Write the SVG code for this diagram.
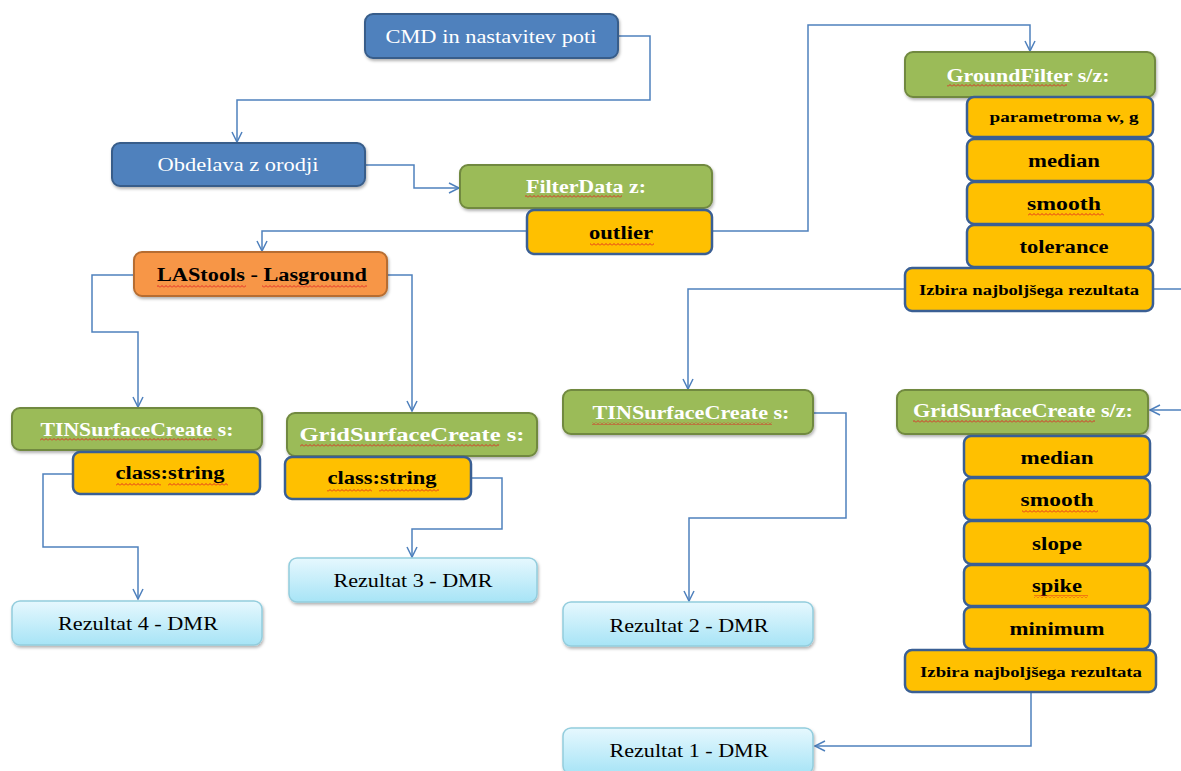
<svg xmlns="http://www.w3.org/2000/svg" width="1181" height="771" viewBox="0 0 1181 771">
<defs>
  <marker id="arr" markerUnits="userSpaceOnUse" markerWidth="14" markerHeight="14" refX="11" refY="6" orient="auto">
    <path d="M1,1 L11,6 L1,11" fill="none" stroke="#4F81BD" stroke-width="1.5"/>
  </marker>
  <filter id="sh" x="-10%" y="-20%" width="120%" height="150%">
    <feDropShadow dx="1" dy="2" stdDeviation="1.5" flood-color="#000" flood-opacity="0.3"/>
  </filter>
  <linearGradient id="lb" x1="0" y1="0" x2="0" y2="1">
    <stop offset="0" stop-color="#E6F8FE"/>
    <stop offset="1" stop-color="#A7E4F6"/>
  </linearGradient>
  <pattern id="wavy" patternUnits="userSpaceOnUse" width="4" height="3">
    <path d="M0,2.5 L2,0.5 L4,2.5" fill="none" stroke="#E02020" stroke-width="0.9"/>
  </pattern>
  <style>
    .blue{fill:#4F81BD;stroke:#385D8A;stroke-width:2}
    .green{fill:#9BBB59;stroke:#71893F;stroke-width:2}
    .orn{fill:#FFC000;stroke:#3A5F94;stroke-width:2.5}
    .las{fill:#F79646;stroke:#B66D31;stroke-width:2}
    .res{fill:url(#lb);stroke:#93CDDD;stroke-width:1.5}
    .t{font-family:"Liberation Serif","Times New Roman",serif;text-anchor:middle}
    .tw{fill:#FFFFFF;font-size:19px}
    .tg{fill:#FFFFFF;font-size:19px;font-weight:bold}
    .tb{fill:#000;font-size:18px;font-weight:bold}
    .ts{fill:#000;font-size:15px;font-weight:bold}
    .tr{fill:#000;font-size:19px}
    .c{fill:none;stroke:#4F81BD;stroke-width:1.5}
    .w{fill:url(#wavy)}
  </style>
</defs>
<rect width="1181" height="771" fill="#FFFFFF"/>

<g id="connectors">
  <path class="c" d="M618,36 H650 V100 H237 V142" marker-end="url(#arr)"/>
  <path class="c" d="M365,165 H414 V188 H459" marker-end="url(#arr)"/>
  <path class="c" d="M527,231 H262 V251" marker-end="url(#arr)"/>
  <path class="c" d="M712,231 H808 V25 H1030 V51" marker-end="url(#arr)"/>
  <path class="c" d="M134,275 H92 V332 H138 V407" marker-end="url(#arr)"/>
  <path class="c" d="M387,275 H412 V411" marker-end="url(#arr)"/>
  <path class="c" d="M905,289 H688 V389" marker-end="url(#arr)"/>
  <path class="c" d="M1153,289 H1195 V410 H1150" marker-end="url(#arr)"/>
  <path class="c" d="M73,474 H43 V547 H138 V599" marker-end="url(#arr)"/>
  <path class="c" d="M471,478 H502 V529 H412 V557" marker-end="url(#arr)"/>
  <path class="c" d="M813,413 H846 V518 H689 V601" marker-end="url(#arr)"/>
  <path class="c" d="M1031,692 V746 H815" marker-end="url(#arr)"/>
</g>

<g id="cmd">
  <rect class="blue" x="365" y="14" width="253" height="44" rx="8" filter="url(#sh)"/>
  <text class="t tw" x="491" y="43" textLength="211" lengthAdjust="spacingAndGlyphs">CMD in nastavitev poti</text>
</g>
<g id="obdelava">
  <rect class="blue" x="112" y="143" width="253" height="43" rx="8" filter="url(#sh)"/>
  <text class="t tw" x="238" y="171" textLength="161" lengthAdjust="spacingAndGlyphs">Obdelava z orodji</text>
</g>
<g id="filterdata">
  <rect class="green" x="460" y="165" width="252" height="43" rx="8" filter="url(#sh)"/>
  <text class="t tg" x="586" y="193" textLength="120" lengthAdjust="spacingAndGlyphs">FilterData z:</text>
  <rect class="w" x="525" y="195" width="97" height="3"/>
</g>
<g id="outlier">
  <rect class="orn" x="527" y="210" width="185" height="44" rx="7"/>
  <text class="t tb" x="621" y="239" textLength="64" lengthAdjust="spacingAndGlyphs">outlier</text>
  <rect class="w" x="590" y="243" width="64" height="3"/>
</g>
<g id="lastools">
  <rect class="las" x="134" y="252" width="253" height="44" rx="8" filter="url(#sh)"/>
  <text class="t tb" x="262" y="281" textLength="210" lengthAdjust="spacingAndGlyphs">LAStools - Lasground</text>
  <rect class="w" x="157" y="285" width="89" height="3"/>
  <rect class="w" x="262" y="285" width="105" height="3"/>
</g>

<g id="groundfilter">
  <rect class="green" x="905" y="52" width="250" height="45" rx="8" filter="url(#sh)"/>
  <text class="t tg" x="1028" y="82" textLength="163" lengthAdjust="spacingAndGlyphs">GroundFilter s/z:</text>
  <rect class="w" x="947" y="84" width="120" height="3"/>
</g>
<g id="gf-parametroma">
  <rect class="orn" x="967" y="97" width="186" height="40" rx="7"/>
  <text class="t ts" x="1064" y="122" textLength="149" lengthAdjust="spacingAndGlyphs">parametroma w, g</text>
</g>
<g id="gf-median">
  <rect class="orn" x="967" y="139" width="186" height="42" rx="7"/>
  <text class="t tb" x="1064" y="167" textLength="72" lengthAdjust="spacingAndGlyphs">median</text>
</g>
<g id="gf-smooth">
  <rect class="orn" x="967" y="182" width="186" height="42" rx="7"/>
  <text class="t tb" x="1064" y="210" textLength="74" lengthAdjust="spacingAndGlyphs">smooth</text>
  <rect class="w" x="1028" y="213" width="76" height="3"/>
</g>
<g id="gf-tolerance">
  <rect class="orn" x="967" y="225" width="186" height="42" rx="7"/>
  <text class="t tb" x="1064" y="253" textLength="89" lengthAdjust="spacingAndGlyphs">tolerance</text>
</g>
<g id="gf-izbira">
  <rect class="orn" x="905" y="268" width="248" height="43" rx="7"/>
  <text class="t ts" x="1029" y="295" textLength="220" lengthAdjust="spacingAndGlyphs">Izbira najboljšega rezultata</text>
</g>

<g id="tin1">
  <rect class="green" x="12" y="408" width="250" height="42" rx="8" filter="url(#sh)"/>
  <text class="t tg" x="137" y="436" textLength="193" lengthAdjust="spacingAndGlyphs">TINSurfaceCreate s:</text>
  <rect class="w" x="40" y="438" width="177" height="3"/>
</g>
<g id="tin1-class">
  <rect class="orn" x="73" y="452" width="187" height="42" rx="7"/>
  <text class="t tb" x="170" y="479" textLength="109" lengthAdjust="spacingAndGlyphs">class:string</text>
  <rect class="w" x="116" y="483" width="45" height="3"/>
  <rect class="w" x="168" y="483" width="60" height="3"/>
</g>
<g id="res4">
  <rect class="res" x="12" y="601" width="250" height="44" rx="8" filter="url(#sh)"/>
  <text class="t tr" x="138" y="630" textLength="160" lengthAdjust="spacingAndGlyphs">Rezultat 4 - DMR</text>
</g>

<g id="grid1">
  <rect class="green" x="287" y="413" width="250" height="43" rx="8" filter="url(#sh)"/>
  <text class="t tg" x="412" y="441" textLength="225" lengthAdjust="spacingAndGlyphs">GridSurfaceCreate s:</text>
  <rect class="w" x="300" y="444" width="199" height="3"/>
</g>
<g id="grid1-class">
  <rect class="orn" x="285" y="457" width="186" height="42" rx="7"/>
  <text class="t tb" x="382" y="484" textLength="109" lengthAdjust="spacingAndGlyphs">class:string</text>
  <rect class="w" x="327" y="489" width="45" height="3"/>
  <rect class="w" x="379" y="489" width="60" height="3"/>
</g>
<g id="res3">
  <rect class="res" x="289" y="558" width="248" height="44" rx="8" filter="url(#sh)"/>
  <text class="t tr" x="413" y="587" textLength="159" lengthAdjust="spacingAndGlyphs">Rezultat 3 - DMR</text>
</g>

<g id="tin2">
  <rect class="green" x="563" y="390" width="250" height="44" rx="8" filter="url(#sh)"/>
  <text class="t tg" x="691" y="419" textLength="197" lengthAdjust="spacingAndGlyphs">TINSurfaceCreate s:</text>
  <rect class="w" x="592" y="422" width="180" height="3"/>
</g>
<g id="res2">
  <rect class="res" x="563" y="602" width="250" height="44" rx="8" filter="url(#sh)"/>
  <text class="t tr" x="689" y="632" textLength="159" lengthAdjust="spacingAndGlyphs">Rezultat 2 - DMR</text>
</g>

<g id="grid2">
  <rect class="green" x="897" y="390" width="251" height="44" rx="8" filter="url(#sh)"/>
  <text class="t tg" x="1023" y="417" textLength="220" lengthAdjust="spacingAndGlyphs">GridSurfaceCreate s/z:</text>
  <rect class="w" x="913" y="420" width="182" height="3"/>
</g>
<g id="gs-median">
  <rect class="orn" x="964" y="436" width="186" height="41" rx="7"/>
  <text class="t tb" x="1057" y="464" textLength="73" lengthAdjust="spacingAndGlyphs">median</text>
</g>
<g id="gs-smooth">
  <rect class="orn" x="964" y="478" width="186" height="42" rx="7"/>
  <text class="t tb" x="1057" y="506" textLength="73" lengthAdjust="spacingAndGlyphs">smooth</text>
  <rect class="w" x="1022" y="510" width="76" height="3"/>
</g>
<g id="gs-slope">
  <rect class="orn" x="964" y="521" width="186" height="43" rx="7"/>
  <text class="t tb" x="1057" y="550" textLength="50" lengthAdjust="spacingAndGlyphs">slope</text>
</g>
<g id="gs-spike">
  <rect class="orn" x="964" y="565" width="186" height="41" rx="7"/>
  <text class="t tb" x="1057" y="592" textLength="50" lengthAdjust="spacingAndGlyphs">spike</text>
  <rect class="w" x="1034" y="595" width="54" height="3"/>
</g>
<g id="gs-minimum">
  <rect class="orn" x="964" y="607" width="186" height="42" rx="7"/>
  <text class="t tb" x="1057" y="635" textLength="95" lengthAdjust="spacingAndGlyphs">minimum</text>
</g>
<g id="gs-izbira">
  <rect class="orn" x="905" y="650" width="251" height="42" rx="7"/>
  <text class="t ts" x="1031" y="677" textLength="222" lengthAdjust="spacingAndGlyphs">Izbira najboljšega rezultata</text>
</g>
<g id="res1">
  <rect class="res" x="563" y="728" width="250" height="46" rx="8" filter="url(#sh)"/>
  <text class="t tr" x="689" y="757" textLength="159" lengthAdjust="spacingAndGlyphs">Rezultat 1 - DMR</text>
</g>
</svg>
